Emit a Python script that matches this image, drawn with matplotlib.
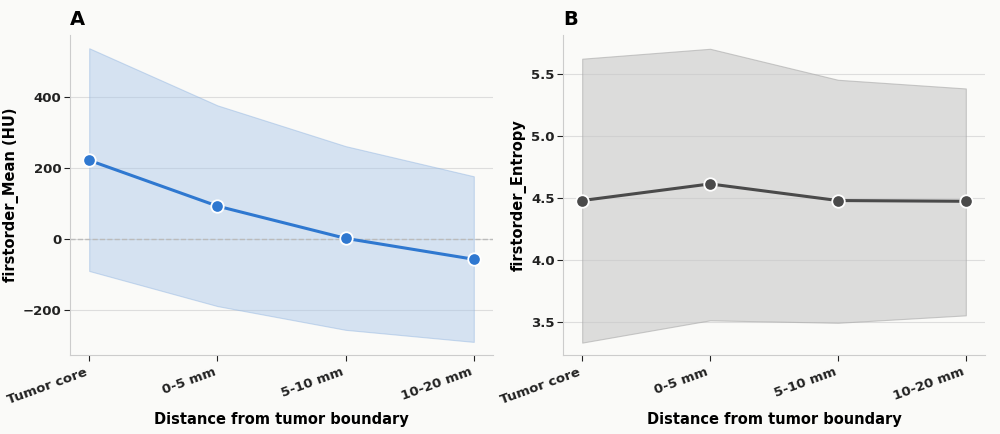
import matplotlib.pyplot as plt

categories = ['Tumor core', '0-5 mm', '5-10 mm', '10-20 mm']
mean_hu = [222, 93, 2, -57]
mean_hu_upper = [538, 377, 262, 177]
mean_hu_lower = [-90, -189, -256, -290]
entropy = [4.476, 4.61, 4.476, 4.47]
entropy_upper = [5.62, 5.70, 5.45, 5.38]
entropy_lower = [3.33, 3.51, 3.49, 3.55]

bg = '#fafaf8'
fig = plt.figure(figsize=(10, 4.34), dpi=100, facecolor=bg)
axA = fig.add_axes([0.070, 0.182, 0.423, 0.737])
axB = fig.add_axes([0.563, 0.182, 0.422, 0.737])

x = list(range(len(categories)))

def style(ax, letter, ylabel):
    ax.set_facecolor(bg)
    for s in ['top', 'right']:
        ax.spines[s].set_visible(False)
    for s in ['left', 'bottom']:
        ax.spines[s].set_color('#cccccc')
    ax.grid(axis='y', color='#dddddd', linewidth=0.8)
    ax.set_axisbelow(True)
    ax.set_xticks(x)
    ax.set_xticklabels(categories, rotation=20, ha='right', fontweight='bold', fontsize=9.5)
    for t in ax.get_yticklabels():
        t.set_fontweight('bold')
    ax.tick_params(axis='y', labelsize=9.5, pad=2)
    ax.tick_params(colors='#222222', length=4)
    ax.set_xlabel('Distance from tumor boundary', fontweight='bold', fontsize=10.5, labelpad=4)
    ax.set_ylabel(ylabel, fontweight='bold', fontsize=10.5, labelpad=3)
    ax.set_xlim(-0.15, 3.15)
    ax.text(0.0, 1.02, letter, transform=ax.transAxes, fontsize=14, fontweight='bold', va='bottom')

axA.fill_between(x, mean_hu_lower, mean_hu_upper, color='#a8c6ea', alpha=0.45, edgecolor='#8fb3e0', linewidth=0.8)
axA.axhline(0, color='#bbbbbb', linestyle='--', linewidth=1)
axA.plot(x, mean_hu, color='#2f78d0', linewidth=2.2, marker='o', markersize=9,
         markeredgecolor='white', markeredgewidth=1.3)
axA.set_ylim(-327, 575)
axA.set_yticks([-200, 0, 200, 400])
axA.set_yticklabels(['\u2212200', '0', '200', '400'])
style(axA, 'A', 'firstorder_Mean (HU)')

axB.fill_between(x, entropy_lower, entropy_upper, color='#c8c8c8', alpha=0.6, edgecolor='#aaaaaa', linewidth=0.8)
axB.plot(x, entropy, color='#4a4a4a', linewidth=2.2, marker='o', markersize=9,
         markeredgecolor='white', markeredgewidth=1.3)
axB.set_ylim(3.23, 5.81)
axB.set_yticks([3.5, 4.0, 4.5, 5.0, 5.5])
style(axB, 'B', 'firstorder_Entropy')

fig.savefig('out.png', dpi=100, facecolor=bg)
